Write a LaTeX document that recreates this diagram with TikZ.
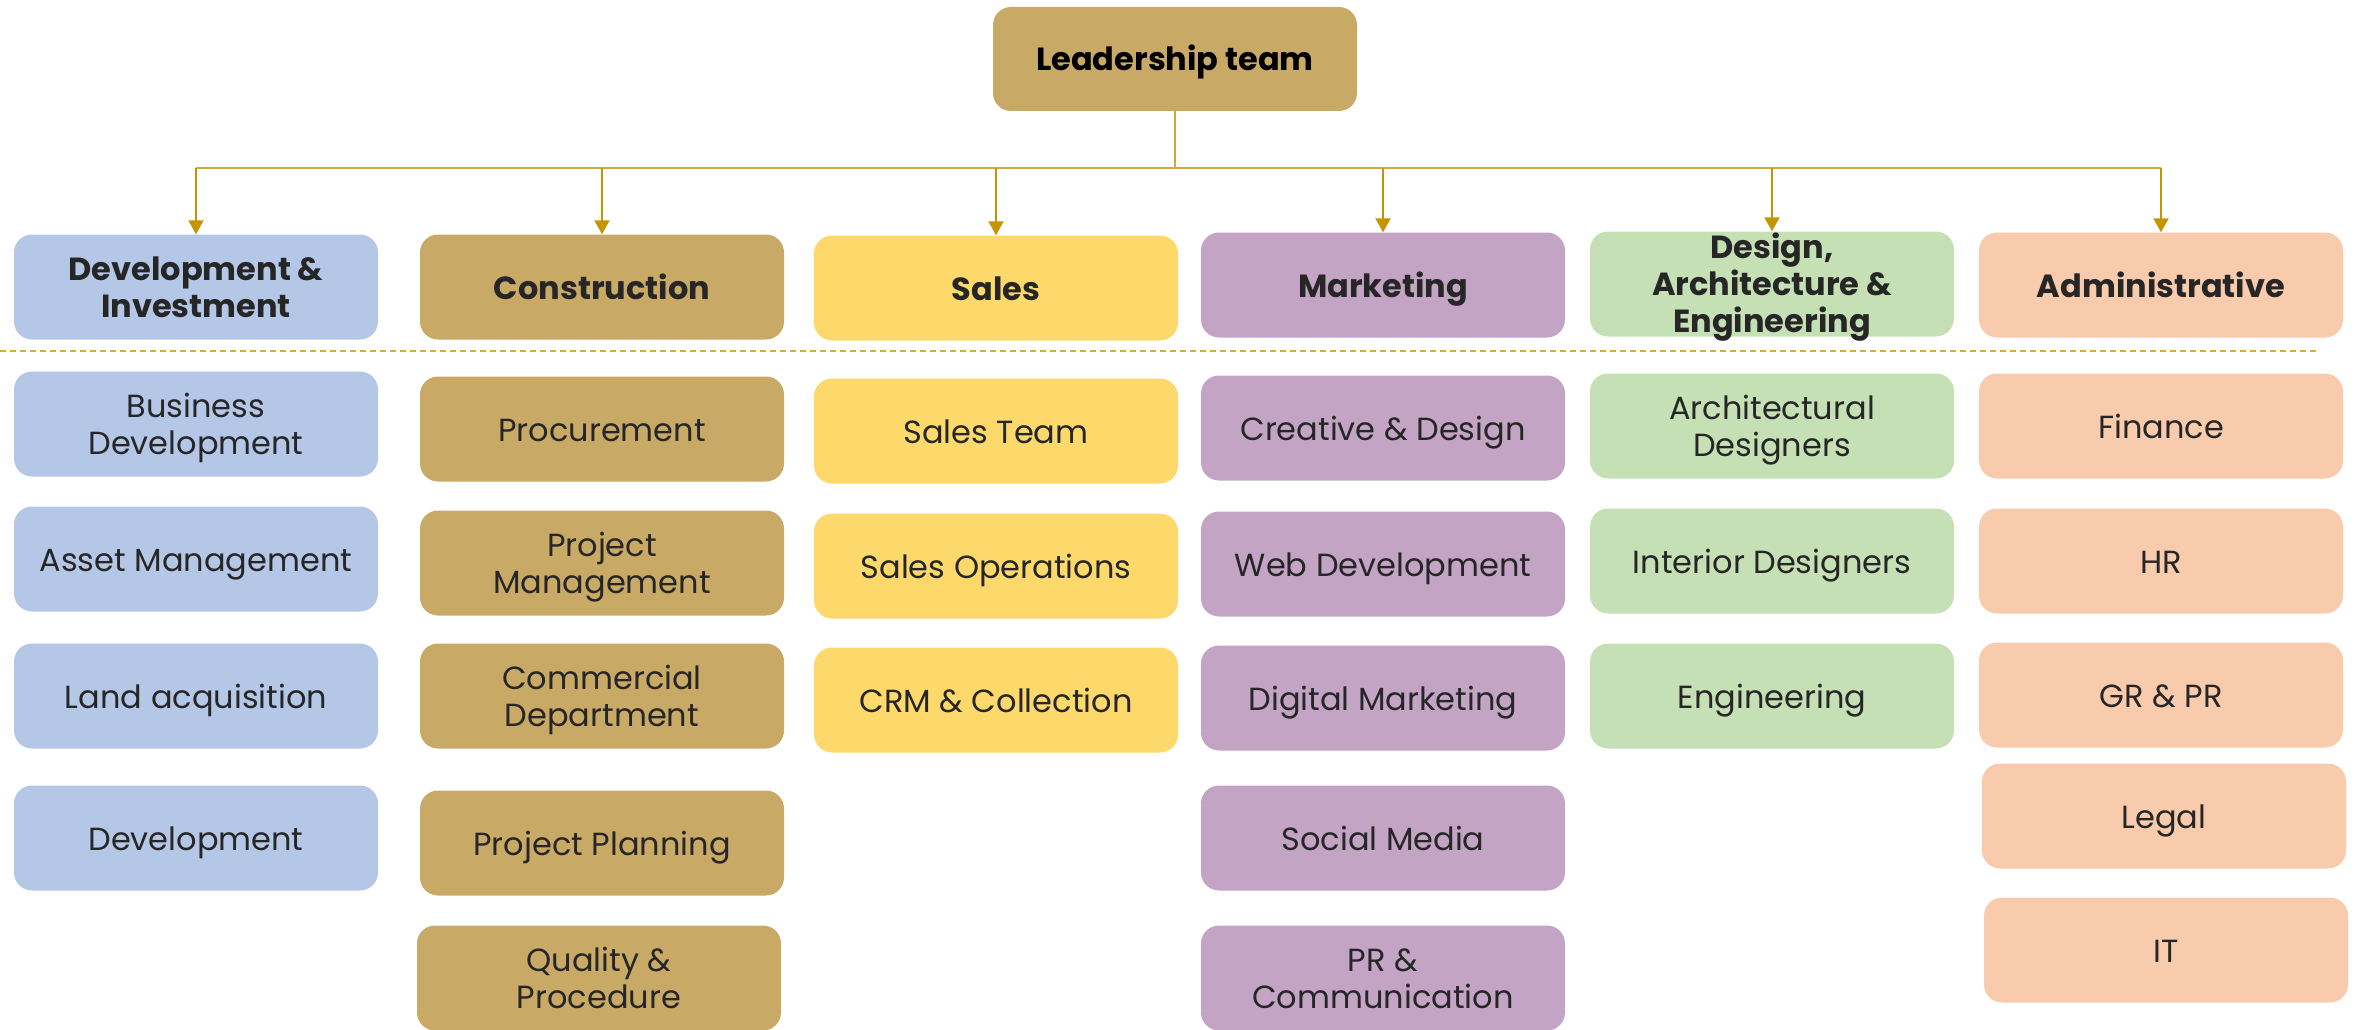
\documentclass[tikz,border=0pt]{standalone}
\usepackage{fontspec}
\setmainfont{Poppins}
\usetikzlibrary{arrows.meta}

\definecolor{txt}{HTML}{262626}
\definecolor{cblue}{HTML}{B4C7E7}
\definecolor{ctan}{HTML}{C9A966}
\definecolor{cyellow}{HTML}{FDD86A}
\definecolor{cpurple}{HTML}{C3A4C4}
\definecolor{cgreen}{HTML}{C5E0B4}
\definecolor{cpeach}{HTML}{F8CBAD}
\definecolor{wire}{HTML}{D0A83A}
\definecolor{arrowc}{HTML}{C49500}
\definecolor{dashc}{HTML}{D4AD3C}

% centred block of lines, lowered a little while keeping its nominal size
\newcommand{\lines}[1]{\raisebox{-4.5pt}[\height][\depth]{\begin{tabular}{@{}c@{}}#1\end{tabular}}}

\tikzset{
  box/.style={rounded corners=18pt, minimum width=364pt, minimum height=105pt,
    inner sep=0pt, text=txt, font=\fontsize{32}{37.5}\selectfont},
  hdr/.style={box, font=\bfseries\fontsize{32}{37.5}\selectfont},
  hdrtext/.style={inner sep=0pt, text=txt,
    font=\bfseries\fontsize{32}{37}\selectfont},
  wireline/.style={draw=wire, line width=1.5pt},
  feed/.style={draw=arrowc, line width=2pt, -{Triangle[width=15pt,length=14pt]}},
}

\begin{document}
\begin{tikzpicture}[x=1pt,y=-1pt]
\useasboundingbox (0,0) rectangle (2354,1030);

% top of the chart
\node[box, fill=ctan, minimum height=104pt, text=black,
      font=\bfseries\fontsize{32}{37.5}\selectfont] (lead) at (1175,59) {\lines{Leadership team}};

% department headers
\node[hdr, fill=cblue]   (dev) at (196,287)  {\lines{Development \&\\Investment}};
\node[hdr, fill=ctan]    (con) at (602,287)  {\lines{Construction}};
\node[hdr, fill=cyellow] (sal) at (996,288)  {\lines{Sales}};
\node[hdr, fill=cpurple] (mkt) at (1383,285) {\lines{Marketing}};
\node[hdr, fill=cgreen]  (dae) at (1772,284) {};
\node[hdrtext] (daetext) at (dae.center) {\lines{Design,\\Architecture \&\\Engineering}};
\node[hdr, fill=cpeach]  (adm) at (2161,285) {\lines{Administrative}};

% separator between headers and teams
\coordinate (sepL) at (0,351);
\coordinate (sepR) at (2316,351);
\draw[draw=dashc, line width=1.5pt, dash pattern=on 6pt off 4pt] (sepL) -- (sepR);

% Development & Investment
\node[box, fill=cblue] (d1) at (196,424) {\lines{Business\\Development}};
\node[box, fill=cblue] (d2) at (196,559) {\lines{Asset Management}};
\node[box, fill=cblue] (d3) at (196,696) {\lines{Land acquisition}};
\node[box, fill=cblue] (d4) at (196,838) {\lines{Development}};

% Construction
\node[box, fill=ctan] (c1) at (602,429) {\lines{Procurement}};
\node[box, fill=ctan] (c2) at (602,563) {\lines{Project\\Management}};
\node[box, fill=ctan] (c3) at (602,696) {\lines{Commercial\\Department}};
\node[box, fill=ctan] (c4) at (602,843) {\lines{Project Planning}};
\node[box, fill=ctan] (c5) at (599,978) {\lines{Quality \&\\Procedure}};

% Sales
\node[box, fill=cyellow] (s1) at (996,431) {\lines{Sales Team}};
\node[box, fill=cyellow] (s2) at (996,566) {\lines{Sales Operations}};
\node[box, fill=cyellow] (s3) at (996,700) {\lines{CRM \& Collection}};

% Marketing
\node[box, fill=cpurple] (m1) at (1383,428) {\lines{Creative \& Design}};
\node[box, fill=cpurple] (m2) at (1383,564) {\lines{Web Development}};
\node[box, fill=cpurple] (m3) at (1383,698) {\lines{Digital Marketing}};
\node[box, fill=cpurple] (m4) at (1383,838) {\lines{Social Media}};
\node[box, fill=cpurple] (m5) at (1383,978) {\lines{PR \&\\Communication}};

% Design, Architecture & Engineering
\node[box, fill=cgreen] (e1) at (1772,426) {\lines{Architectural\\Designers}};
\node[box, fill=cgreen] (e2) at (1772,561) {\lines{Interior Designers}};
\node[box, fill=cgreen] (e3) at (1772,696) {\lines{Engineering}};

% Administrative
\node[box, fill=cpeach] (a1) at (2161,426) {\lines{Finance}};
\node[box, fill=cpeach] (a2) at (2161,561) {\lines{HR}};
\node[box, fill=cpeach] (a3) at (2161,695) {\lines{GR \& PR}};
\node[box, fill=cpeach] (a4) at (2164,816) {\lines{Legal}};
\node[box, fill=cpeach] (a5) at (2166,950) {\lines{IT}};

% connectors
\coordinate (bus) at (1175,168);
\draw[wireline] (lead.south) -- (bus);
\draw[wireline] (dev.north |- bus) -- (adm.north |- bus);
\foreach \n in {dev,con,sal,mkt,dae,adm}
  \draw[feed] (\n.north |- bus) -- (\n.north);
\end{tikzpicture}
\end{document}
